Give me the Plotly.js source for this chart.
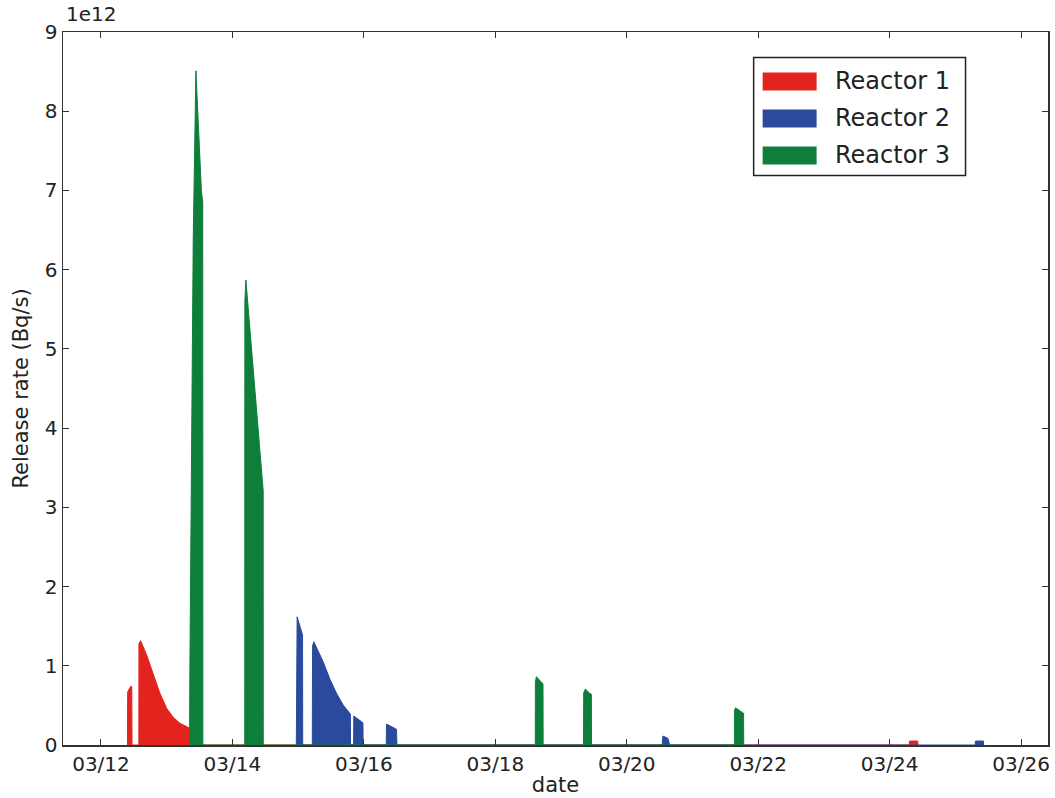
<!DOCTYPE html>
<html>
<head>
<meta charset="utf-8">
<script src="https://cdn.plot.ly/plotly-3.0.1.min.js"></script>
<style>
  html, body { margin: 0; padding: 0; background: #ffffff; }
  #chart { width: 1055px; height: 798px; }
</style>
</head>
<body>
<div id="chart"></div>
<script>
// ---- data (release rate in units of 1e12 Bq/s) ----
const reactor1Times = [
  "2011-03-12 09:40", "2011-03-12 09:45", "2011-03-12 10:57", "2011-03-12 11:15", "2011-03-12 11:20",
  "2011-03-12 13:50", "2011-03-12 13:52", "2011-03-12 14:29", "2011-03-12 16:41", "2011-03-12 19:05",
  "2011-03-12 21:32", "2011-03-12 23:59", "2011-03-13 02:23", "2011-03-13 04:50", "2011-03-13 07:52",
  "2011-03-13 08:14", "2011-03-13 08:16",
  "2011-03-24 07:10", "2011-03-24 07:15", "2011-03-24 10:15", "2011-03-24 10:20"
];
const reactor1Values = [
  0, 0.67, 0.744, 0.73, 0,
  0, 1.28, 1.316, 1.135, 0.883,
  0.652, 0.463, 0.349, 0.274, 0.218,
  0.215, 0,
  0, 0.05, 0.05, 0
];

const reactor2Times = [
  "2011-03-14 23:20", "2011-03-14 23:25", "2011-03-14 23:38", "2011-03-15 01:37", "2011-03-15 01:40",
  "2011-03-15 05:10", "2011-03-15 05:16", "2011-03-15 05:44", "2011-03-15 09:08", "2011-03-15 11:35",
  "2011-03-15 14:01", "2011-03-15 16:26", "2011-03-15 18:37", "2011-03-15 19:05", "2011-03-15 19:08",
  "2011-03-15 20:15", "2011-03-15 20:20", "2011-03-15 23:15", "2011-03-15 23:40", "2011-03-15 23:44",
  "2011-03-16 08:10", "2011-03-16 08:16", "2011-03-16 11:55", "2011-03-16 12:05",
  "2011-03-20 12:55", "2011-03-20 13:13", "2011-03-20 15:03", "2011-03-20 15:40",
  "2011-03-25 07:15", "2011-03-25 07:20", "2011-03-25 10:15", "2011-03-25 10:20"
];
const reactor2Values = [
  0, 1.55, 1.618, 1.387, 0,
  0, 1.25, 1.303, 1.05, 0.832,
  0.652, 0.505, 0.40, 0.39, 0,
  0, 0.366, 0.286, 0.28, 0,
  0, 0.265, 0.198, 0,
  0, 0.113, 0.084, 0,
  0, 0.05, 0.05, 0
];

const reactor3Times = [
  "2011-03-13 08:20", "2011-03-13 08:29", "2011-03-13 09:41", "2011-03-13 10:40", "2011-03-13 12:40",
  "2011-03-13 13:10", "2011-03-13 13:13",
  "2011-03-14 04:30", "2011-03-14 04:33", "2011-03-14 04:55", "2011-03-14 11:14", "2011-03-14 11:16",
  "2011-03-18 14:35", "2011-03-18 14:39", "2011-03-18 15:01", "2011-03-18 16:50", "2011-03-18 17:25", "2011-03-18 17:28",
  "2011-03-19 08:12", "2011-03-19 08:17", "2011-03-19 08:54", "2011-03-19 10:28", "2011-03-19 11:05", "2011-03-19 11:08",
  "2011-03-21 15:20", "2011-03-21 15:23", "2011-03-21 15:45", "2011-03-21 18:12", "2011-03-21 18:40", "2011-03-21 18:43"
];
const reactor3Values = [
  0, 1.0, 6.37, 8.51, 7.0,
  6.85, 0,
  0, 5.6, 5.87, 3.21, 0,
  0, 0.80, 0.862, 0.786, 0.77, 0,
  0, 0.66, 0.706, 0.652, 0.64, 0,
  0, 0.44, 0.47, 0.41, 0.40, 0
];

const seriesNames = ["Reactor 1", "Reactor 2", "Reactor 3"];
const seriesColors = ["#e3241e", "#2a4a9e", "#0e7f3a"];
const xTickValues = ["2011-03-12", "2011-03-14", "2011-03-16", "2011-03-18", "2011-03-20", "2011-03-22", "2011-03-24", "2011-03-26"];
const xTickLabels = ["03/12", "03/14", "03/16", "03/18", "03/20", "03/22", "03/24", "03/26"];
const yTickValues = [0, 1, 2, 3, 4, 5, 6, 7, 8, 9];
const yTickLabels = ["0", "1", "2", "3", "4", "5", "6", "7", "8", "9"];

// ---- layout geometry (pixels) ----
const W = 1055, H = 798;
const plotL = 63, plotR = 1048.5, plotT = 31.5, plotB = 745;
const px2x = p => (p - plotL) / (plotR - plotL);
const py2y = p => (plotB - p) / (plotB - plotT);

const FONT = "DejaVu Sans, Liberation Sans, sans-serif";
const TXT = "#222222";

const allTimes = [reactor1Times, reactor2Times, reactor3Times];
const allValues = [reactor1Values, reactor2Values, reactor3Values];

const traces = allTimes.map((t, i) => ({
  type: "scatter",
  mode: "lines",
  x: t,
  y: allValues[i],
  name: seriesNames[i],
  fill: "tozeroy",
  fillcolor: seriesColors[i],
  line: { color: seriesColors[i], width: 1 },
  showlegend: false,
  hoverinfo: "x+y+name"
}));

// manual matplotlib-style legend
const legBox = { x0: 754, x1: 966, y0: 57, y1: 175 };
const legRows = [81, 118, 155];
const shapes = [{
  type: "rect", xref: "paper", yref: "paper",
  x0: px2x(legBox.x0), x1: px2x(legBox.x1), y0: py2y(legBox.y1), y1: py2y(legBox.y0),
  line: { color: "#222222", width: 1.5 }, fillcolor: "#ffffff", layer: "above"
}];
const annotations = [];
legRows.forEach((cy, i) => {
  shapes.push({
    type: "rect", xref: "paper", yref: "paper",
    x0: px2x(763), x1: px2x(817), y0: py2y(cy + 9), y1: py2y(cy - 9),
    line: { width: 0 }, fillcolor: seriesColors[i], layer: "above"
  });
  annotations.push({
    xref: "paper", yref: "paper", x: px2x(833), y: py2y(cy),
    xanchor: "left", yanchor: "middle", showarrow: false,
    text: seriesNames[i], font: { family: FONT, size: 24, color: TXT }
  });
});
annotations.push({
  xref: "paper", yref: "paper", x: px2x(64), y: py2y(13),
  xanchor: "left", yanchor: "middle", showarrow: false,
  text: "1e12", font: { family: FONT, size: 20, color: TXT }
});

const layout = {
  width: W, height: H,
  paper_bgcolor: "#ffffff", plot_bgcolor: "#ffffff",
  margin: { l: plotL, r: W - plotR, t: plotT, b: H - plotB, pad: 0 },
  showlegend: false,
  font: { family: FONT, size: 20, color: TXT },
  xaxis: {
    type: "date",
    range: ["2011-03-11 10:08", "2011-03-26 09:50"],
    tickvals: xTickValues, ticktext: xTickLabels,
    ticks: "inside", ticklen: 6, tickwidth: 1, tickcolor: "#333333",
    showline: true, linecolor: "#333333", linewidth: 1.5, mirror: "ticks",
    showgrid: false, zeroline: false,
    tickfont: { family: FONT, size: 20, color: TXT },
    title: { text: "date", font: { family: FONT, size: 21, color: TXT }, standoff: 3 }
  },
  yaxis: {
    range: [0, 9],
    tickvals: yTickValues, ticktext: yTickLabels,
    ticks: "inside", ticklen: 6, tickwidth: 1, tickcolor: "#333333",
    showline: true, linecolor: "#333333", linewidth: 1.5, mirror: "ticks",
    showgrid: false, zeroline: false,
    tickfont: { family: FONT, size: 20, color: TXT },
    title: { text: "Release rate (Bq/s)", font: { family: FONT, size: 21, color: TXT }, standoff: 10 }
  },
  shapes: shapes,
  annotations: annotations
};

Plotly.newPlot("chart", traces, layout, { displayModeBar: false, staticPlot: true });
</script>
</body>
</html>
